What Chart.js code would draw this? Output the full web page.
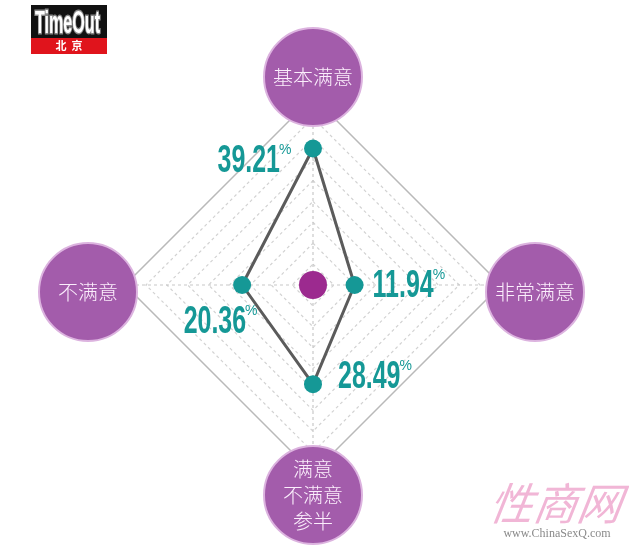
<!DOCTYPE html>
<html>
<head>
<meta charset="utf-8">
<script src="https://cdn.jsdelivr.net/npm/chart.js@4/dist/chart.umd.min.js"></script>
<style>
  html, body { margin: 0; padding: 0; background: #fff; }
  #wrap { width: 629px; height: 551px; position: relative; }
</style>
</head>
<body>
<div id="wrap"><canvas id="radar" width="629" height="551"></canvas></div>
<script>
// survey categories, clockwise from the top
const categories = ['基本满意', '非常满意', '满意\n不满意\n参半', '不满意'];
const shares = [39.21, 11.94, 28.49, 20.36];
const scaleMax = 54;
const scaleStep = 6;

const TEAL = '#159896';
const PURPLE = '#a35cab';

// where the purple bubbles and value labels sit relative to the axis ends
const bubbleDist = [208, 222, 210, 225];
const labelOffset = [
  { dx: -33, dy: 11, align: 'right' },
  { dx: 18, dy: -1, align: 'left' },
  { dx: 25, dy: -9, align: 'left' },
  { dx: 4, dy: 35, align: 'right' }
];

/**
 * Draws purple category bubbles, centre dot, value labels and the branding
 */
const decorPlugin = {
  id: 'decor',
  beforeDatasetsDraw(chart) {
    const ctx = chart.ctx;
    const scale = chart.scales.r;

    // category bubbles
    categories.forEach((label, i) => {
      const p = scale.getPointPosition(i, bubbleDist[i]);
      const y = p.y + (i % 2 === 1 ? 7 : 0);
      ctx.save();
      ctx.beginPath();
      ctx.arc(p.x, y, 49, 0, Math.PI * 2);
      ctx.fillStyle = PURPLE;
      ctx.fill();
      ctx.lineWidth = 2;
      ctx.strokeStyle = '#dcb3df';
      ctx.stroke();
      ctx.fillStyle = '#fbeefc';
      ctx.font = '300 20px "Noto Sans CJK SC", sans-serif';
      ctx.textAlign = 'center';
      ctx.textBaseline = 'middle';
      const lines = label.split('\n');
      const lh = 26;
      lines.forEach((ln, k) => {
        ctx.fillText(ln, p.x, y + (k - (lines.length - 1) / 2) * lh);
      });
      ctx.restore();
    });

    // centre dot
    ctx.save();
    ctx.beginPath();
    ctx.arc(scale.xCenter, scale.yCenter, 14, 0, Math.PI * 2);
    ctx.fillStyle = '#9c2a8f';
    ctx.fill();
    ctx.restore();
  },
  afterDatasetsDraw(chart) {
    const ctx = chart.ctx;
    const points = chart.getDatasetMeta(0).data;

    points.forEach((pt, i) => {
      const o = labelOffset[i];
      const txt = shares[i].toFixed(2);
      ctx.save();
      ctx.font = 'bold 39px "Liberation Sans", Arial, sans-serif';
      ctx.textBaseline = 'middle';
      const sx = 0.64;
      const w = ctx.measureText(txt).width * sx;
      const left = o.align === 'right' ? pt.x + o.dx - w : pt.x + o.dx;
      const cy = pt.y + o.dy;
      ctx.translate(left, cy);
      ctx.scale(sx, 1);
      ctx.fillStyle = TEAL;
      ctx.fillText(txt, 0, 2);
      ctx.restore();

      ctx.save();
      ctx.font = '14px "Liberation Sans", Arial, sans-serif';
      ctx.fillStyle = TEAL;
      ctx.textBaseline = 'middle';
      ctx.fillText('%', left + w - 1, cy - 9);
      ctx.restore();
    });

    // Time Out logo
    ctx.save();
    ctx.fillStyle = '#111';
    ctx.fillRect(31, 5, 76, 33);
    ctx.fillStyle = '#e0141c';
    ctx.fillRect(31, 38, 76, 16);
    ctx.font = 'bold 31px "Liberation Sans", sans-serif';
    ctx.textBaseline = 'alphabetic';
    ctx.translate(35, 33);
    ctx.scale(0.52, 1);
    ctx.lineWidth = 3;
    ctx.strokeStyle = '#888';
    ctx.strokeText('TimeOut', 0, 0);
    ctx.fillStyle = '#fff';
    ctx.fillText('TimeOut', 0, 0);
    ctx.restore();
    ctx.save();
    ctx.fillStyle = '#fff';
    ctx.font = 'bold 11px "Noto Sans CJK SC", sans-serif';
    ctx.textAlign = 'center';
    ctx.textBaseline = 'middle';
    ctx.fillText('北  京', 69, 46);
    ctx.restore();

    // watermark
    ctx.save();
    ctx.fillStyle = '#f1b6d6';
    ctx.font = 'italic 44px "Noto Sans CJK SC", sans-serif';
    ctx.textAlign = 'center';
    ctx.textBaseline = 'middle';
    ctx.translate(556, 503);
    ctx.transform(1, 0, -0.15, 1, 0, 0);
    ctx.fillText('性商网', 0, 0);
    ctx.restore();
    ctx.save();
    ctx.fillStyle = '#8a8a8a';
    ctx.font = '12px "Liberation Serif", serif';
    ctx.textAlign = 'center';
    ctx.textBaseline = 'middle';
    ctx.fillText('www.ChinaSexQ.com', 557, 534);
    ctx.restore();
  }
};

const lastTick = Math.round(scaleMax / scaleStep);

new Chart(document.getElementById('radar'), {
  type: 'radar',
  data: {
    labels: categories,
    datasets: [{
      data: shares,
      borderColor: '#5b5b5b',
      borderWidth: 3,
      backgroundColor: 'rgba(0,0,0,0)',
      fill: false,
      pointRadius: 9,
      pointBackgroundColor: TEAL,
      pointBorderColor: TEAL,
      pointBorderWidth: 0
    }]
  },
  options: {
    responsive: false,
    animation: false,
    layout: { padding: { left: 125, right: 128, top: 97, bottom: 78 } },
    plugins: {
      legend: { display: false },
      tooltip: { enabled: false }
    },
    scales: {
      r: {
        min: 0,
        max: scaleMax,
        ticks: { display: false, stepSize: scaleStep },
        pointLabels: { display: false },
        angleLines: {
          color: '#c8c8c8',
          lineWidth: 1.2,
          borderDash: [3, 3]
        },
        grid: {
          color: ctx => ctx.index === lastTick ? '#b9b9b9' : '#d2d2d2',
          lineWidth: ctx => ctx.index === lastTick ? 1.5 : 1.2
        },
        border: {
          dash: ctx => ctx.index === lastTick ? [] : [3, 3]
        }
      }
    }
  },
  plugins: [decorPlugin]
});
</script>
</body>
</html>
